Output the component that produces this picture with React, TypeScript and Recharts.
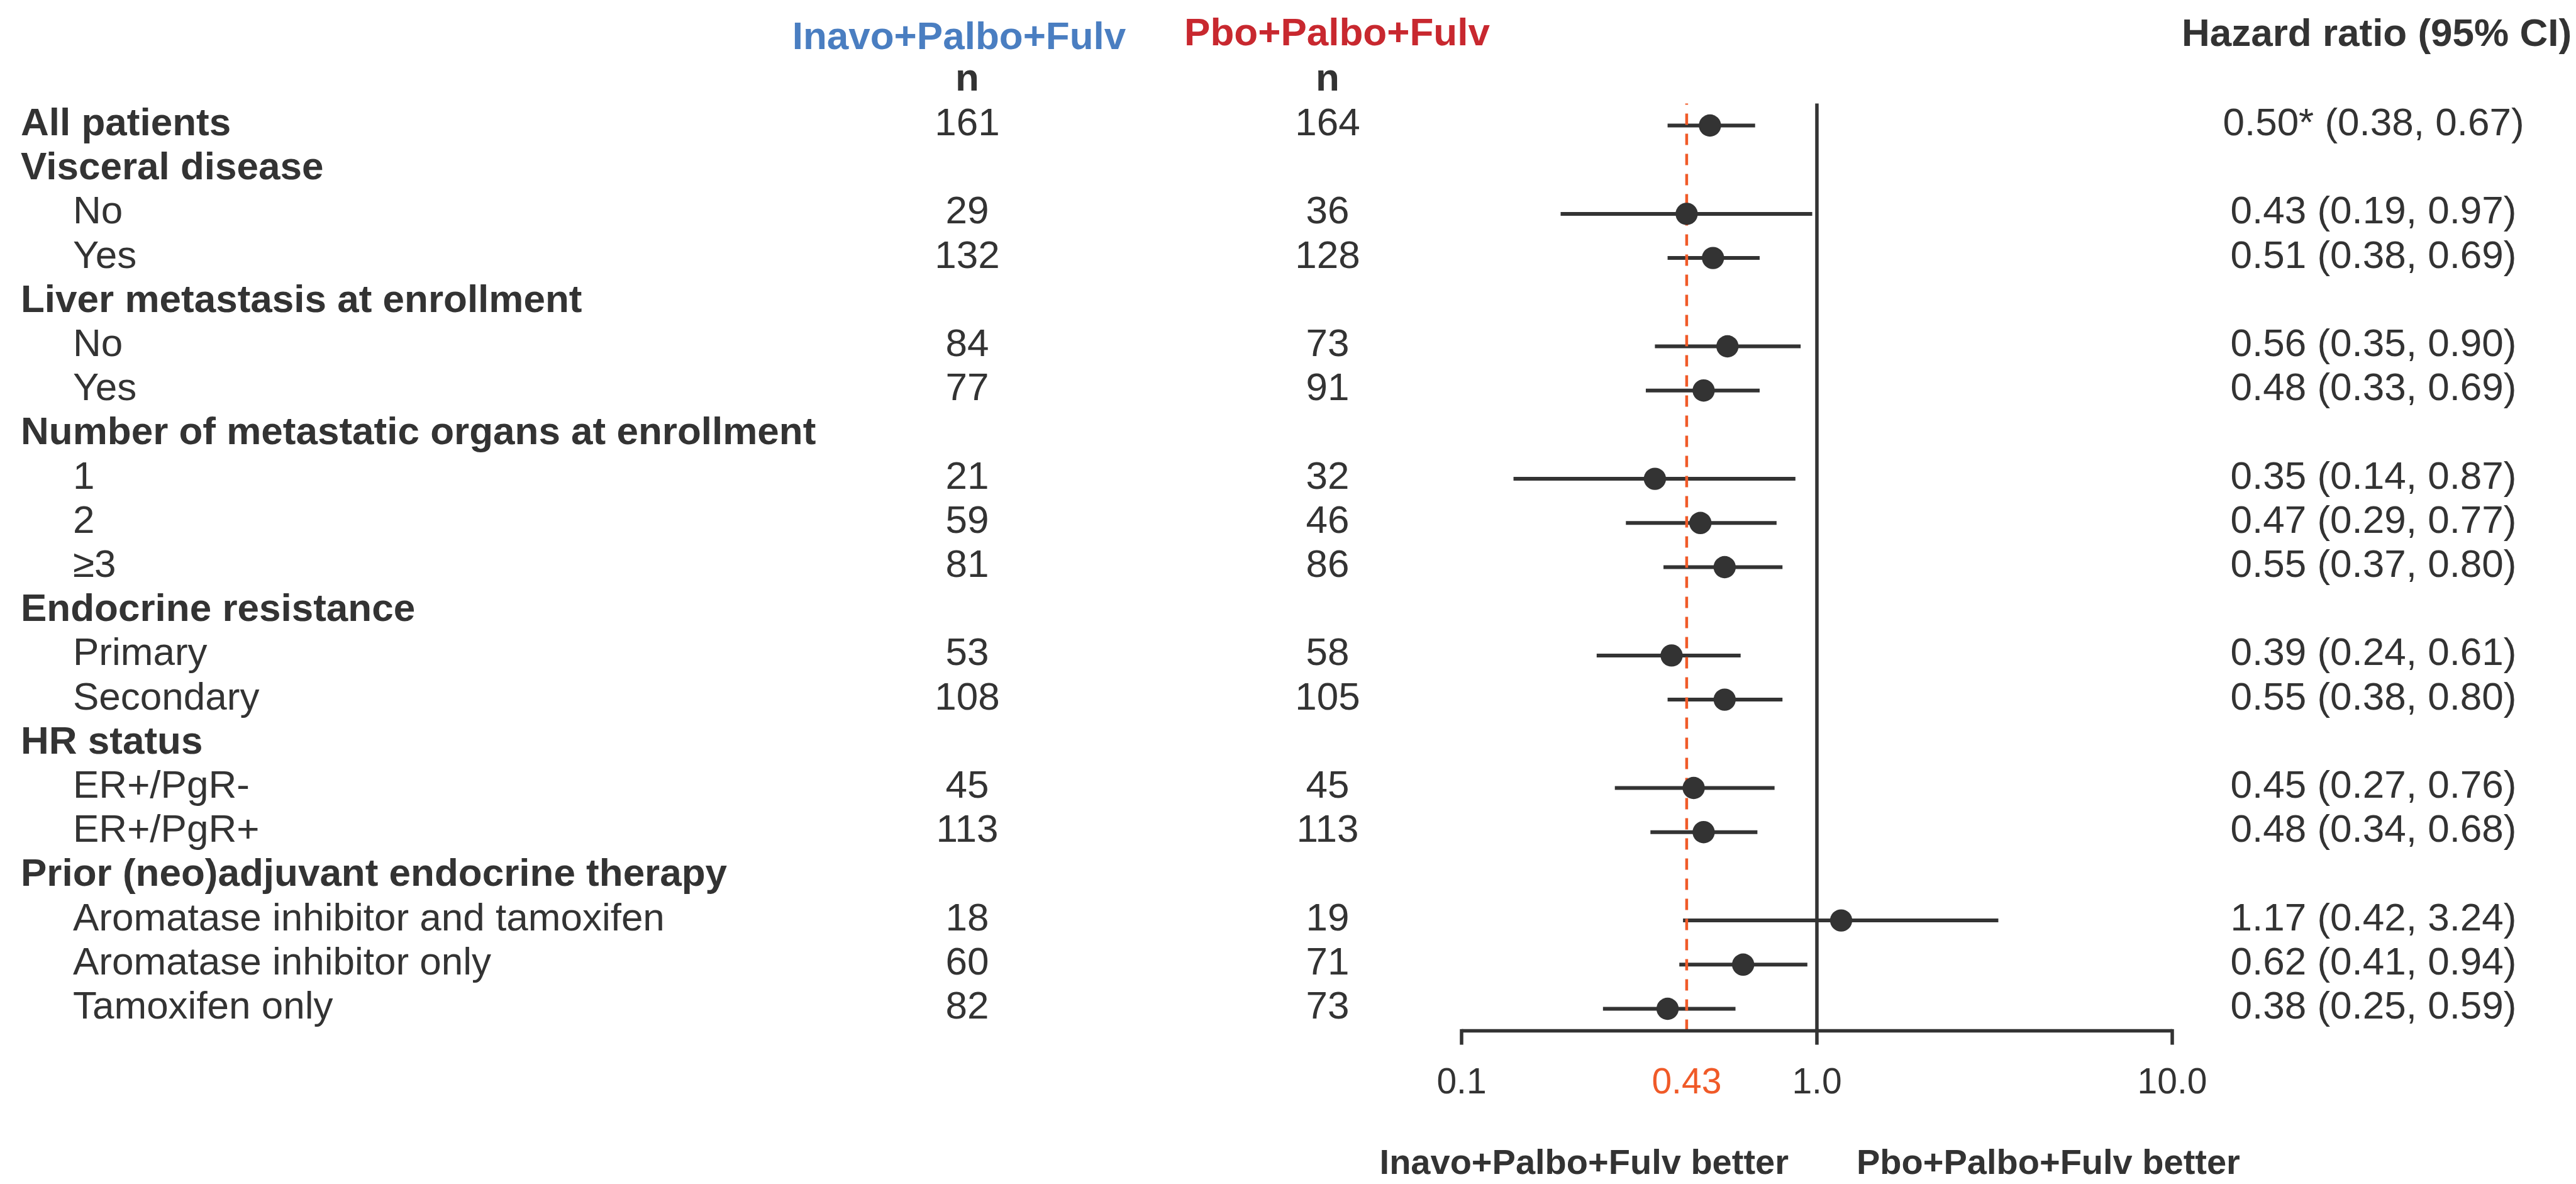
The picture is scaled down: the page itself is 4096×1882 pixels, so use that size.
import { ScatterChart, Scatter, XAxis, YAxis, ErrorBar, ReferenceLine } from 'recharts'

// Forest plot: subgroup hazard ratios, Inavo+Palbo+Fulv vs Pbo+Palbo+Fulv

const rowLabels = [
  'All patients',
  'Visceral disease',
  'No',
  'Yes',
  'Liver metastasis at enrollment',
  'No',
  'Yes',
  'Number of metastatic organs at enrollment',
  '1',
  '2',
  '≥3',
  'Endocrine resistance',
  'Primary',
  'Secondary',
  'HR status',
  'ER+/PgR-',
  'ER+/PgR+',
  'Prior (neo)adjuvant endocrine therapy',
  'Aromatase inhibitor and tamoxifen',
  'Aromatase inhibitor only',
  'Tamoxifen only',
]

// rows drawn in bold (group titles and the overall row)
const boldRows = [0, 1, 4, 7, 11, 14, 17]

const nInavo = [161, null, 29, 132, null, 84, 77, null, 21, 59, 81, null, 53, 108, null, 45, 113, null, 18, 60, 82]
const nPbo = [164, null, 36, 128, null, 73, 91, null, 32, 46, 86, null, 58, 105, null, 45, 113, null, 19, 71, 73]

const hr = [0.5, null, 0.43, 0.51, null, 0.56, 0.48, null, 0.35, 0.47, 0.55, null, 0.39, 0.55, null, 0.45, 0.48, null, 1.17, 0.62, 0.38]
const ciLow = [0.38, null, 0.19, 0.38, null, 0.35, 0.33, null, 0.14, 0.29, 0.37, null, 0.24, 0.38, null, 0.27, 0.34, null, 0.42, 0.41, 0.25]
const ciHigh = [0.67, null, 0.97, 0.69, null, 0.9, 0.69, null, 0.87, 0.77, 0.8, null, 0.61, 0.8, null, 0.76, 0.68, null, 3.24, 0.94, 0.59]
const starredRows = [0]

const xTicks = [0.1, 0.43, 1, 10]
const xTickLabels = ['0.1', '0.43', '1.0', '10.0']
const overallHR = 0.43

const DARK = '#333333'
const ORANGE = '#f05a28'
const BLUE = '#4a7ec1'
const RED = '#c8282f'
const FONT = '"Liberation Sans", Arial, Helvetica, sans-serif'

const rowIndex = rowLabels.map((_, i) => i)

const points = hr
  .map((v, i) =>
    v == null
      ? null
      : { hr: v, row: i, ci: [v - (ciLow[i] as number), (ciHigh[i] as number) - v] }
  )
  .filter(Boolean) as Array<{ hr: number; row: number; ci: number[] }>

function hrText(i: number) {
  const v = hr[i]
  if (v == null) return ''
  const star = starredRows.includes(i) ? '*' : ''
  return `${v.toFixed(2)}${star} (${(ciLow[i] as number).toFixed(2)}, ${(ciHigh[i] as number).toFixed(2)})`
}

function RowTick({ y, payload }: any) {
  const i = payload.value as number
  const bold = boldRows.includes(i)
  const base = y + 15.5
  return (
    <g fontFamily={FONT} fontSize={62} fill={DARK}>
      <text x={bold ? 33 : 116} y={base} fontWeight={bold ? 700 : 400}>
        {rowLabels[i]}
      </text>
      {nInavo[i] != null && (
        <text x={1538} y={base} textAnchor="middle">
          {nInavo[i]}
        </text>
      )}
      {nPbo[i] != null && (
        <text x={2111} y={base} textAnchor="middle">
          {nPbo[i]}
        </text>
      )}
      {hr[i] != null && (
        <text x={3774} y={base} textAnchor="middle">
          {hrText(i)}
        </text>
      )}
    </g>
  )
}

function HrTick({ x, y, payload }: any) {
  const idx = xTicks.indexOf(payload.value)
  const isRef = payload.value === overallHR
  return (
    <g>
      {!isRef && <line x1={x} x2={x} y1={y - 2.75} y2={y + 22} stroke={DARK} strokeWidth={5.5} />}
      <text
        x={x}
        y={y + 99}
        textAnchor="middle"
        fontFamily={FONT}
        fontSize={57}
        fill={isRef ? ORANGE : DARK}
      >
        {xTickLabels[idx]}
      </text>
    </g>
  )
}

export default function App() {
  return (
    <div style={{ position: 'absolute', left: 0, top: 0, background: '#fff' }}>
      <ScatterChart
        width={4096}
        height={1882}
        margin={{ top: 164.4, right: 642, bottom: 123.4, left: 2314 }}
        style={{ fontFamily: FONT }}
      >
        <XAxis
          type="number"
          dataKey="hr"
          scale="log"
          domain={[0.1, 10]}
          ticks={xTicks}
          interval={0}
          allowDataOverflow
          height={120}
          tickLine={false}
          tickSize={0}
          tickMargin={0}
          axisLine={{ stroke: DARK, strokeWidth: 5.5 }}
          tick={<HrTick />}
        />
        <YAxis
          type="number"
          dataKey="row"
          domain={[-0.5, 20.5]}
          reversed
          ticks={rowIndex}
          interval={0}
          width={10}
          axisLine={false}
          tickLine={false}
          tickSize={0}
          tickMargin={0}
          tick={<RowTick />}
        />
        <ReferenceLine x={1} stroke={DARK} strokeWidth={5.5} />
        <Scatter
          data={points}
          isAnimationActive={false}
          shape={(p: any) => <circle cx={p.cx} cy={p.cy} r={17.7} fill={DARK} />}
        >
          <ErrorBar dataKey="ci" direction="x" width={0} stroke={DARK} strokeWidth={6} isAnimationActive={false} />
        </Scatter>
        <ReferenceLine x={overallHR} stroke={ORANGE} strokeWidth={4.5} strokeDasharray="18 14" />

        <text x={1525} y={78} textAnchor="middle" fontFamily={FONT} fontSize={62} fontWeight={700} fill={BLUE}>
          Inavo+Palbo+Fulv
        </text>
        <text x={2126} y={71.5} textAnchor="middle" fontFamily={FONT} fontSize={62} fontWeight={700} fill={RED}>
          Pbo+Palbo+Fulv
        </text>
        <text x={1538} y={143.5} textAnchor="middle" fontFamily={FONT} fontSize={62} fontWeight={700} fill={DARK}>
          n
        </text>
        <text x={2111} y={143.5} textAnchor="middle" fontFamily={FONT} fontSize={62} fontWeight={700} fill={DARK}>
          n
        </text>
        <text x={3779} y={72.5} textAnchor="middle" fontFamily={FONT} fontSize={62} fontWeight={700} fill={DARK}>
          Hazard ratio (95% CI)
        </text>
        <text x={2844} y={1866} textAnchor="end" fontFamily={FONT} fontSize={56} fontWeight={700} fill={DARK}>
          Inavo+Palbo+Fulv better
        </text>
        <text x={2952} y={1866} textAnchor="start" fontFamily={FONT} fontSize={56} fontWeight={700} fill={DARK}>
          Pbo+Palbo+Fulv better
        </text>
      </ScatterChart>
    </div>
  )
}
